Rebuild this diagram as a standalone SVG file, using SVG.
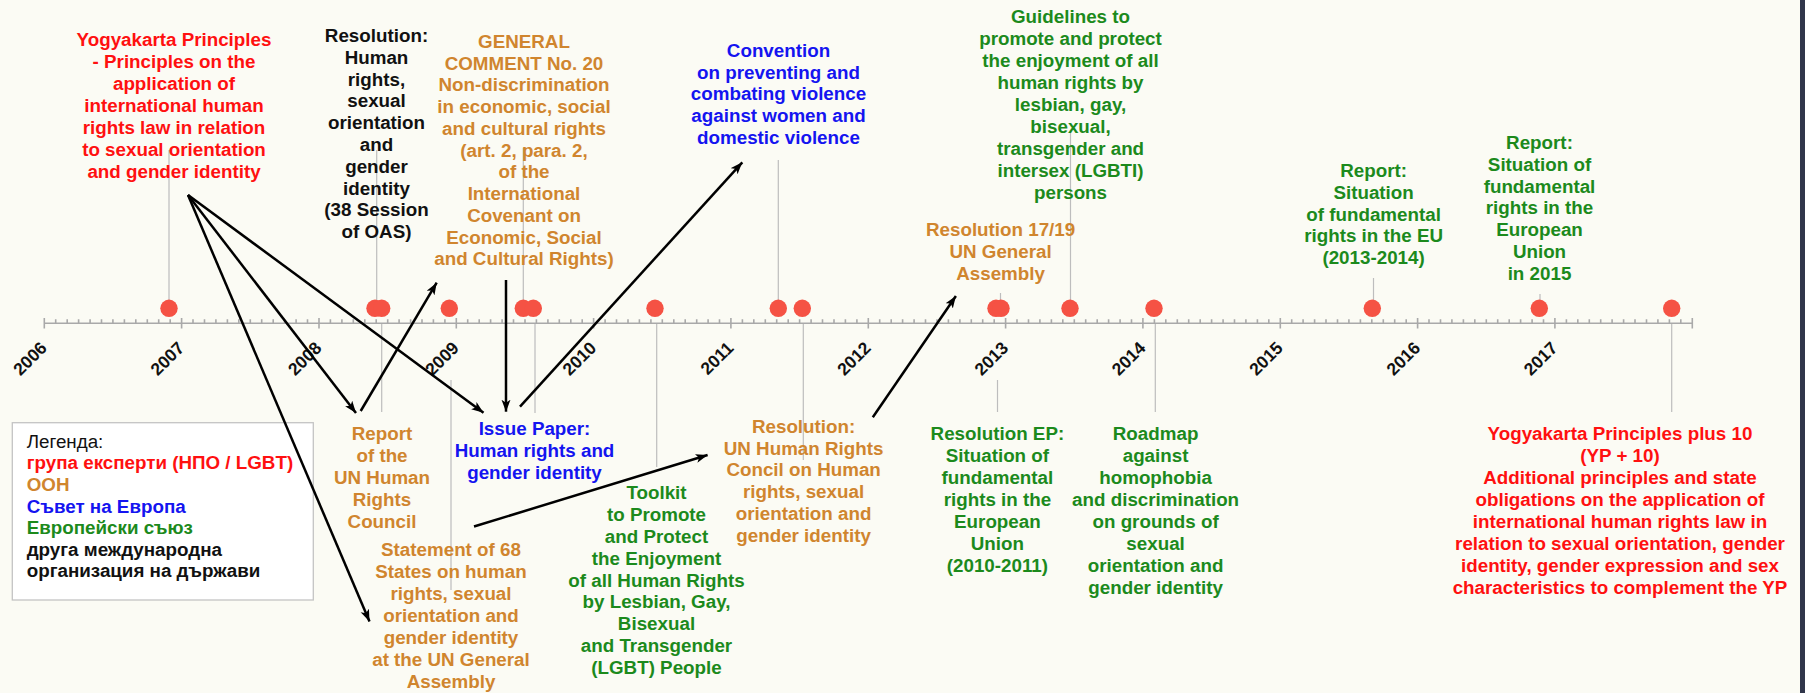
<svg xmlns="http://www.w3.org/2000/svg" width="1805" height="693" viewBox="0 0 1805 693">
<defs>
<style>
text{font-family:"Liberation Sans",Arial,sans-serif;font-weight:bold;font-size:18.8px;text-anchor:middle}
.red{fill:#ff1010}.un{fill:#d0852e}.coe{fill:#1414f0}.eu{fill:#1c8a1c}.blk{fill:#111}
.yr{font-size:17.5px;text-anchor:end;fill:#111}
.leg{text-anchor:start}
.reg{font-weight:normal}
.lead{stroke:#bdbdbd;stroke-width:1.2}
.dot{fill:#f55244}
.axis{stroke:#a9a9a9;stroke-width:1.6;fill:none}
.arr{stroke:#000;stroke-width:2.5;marker-end:url(#ah)}
</style>
<marker id="ah" markerUnits="userSpaceOnUse" markerWidth="13" markerHeight="10" refX="12" refY="4.5" orient="auto">
<path d="M0,0 L12,4.5 L0,9 L3,4.5 z" fill="#000"/>
</marker>
</defs>
<rect width="1805" height="693" fill="#fbfbf4"/>
<rect x="1800" y="0" width="5" height="693" fill="#30364a"/>

<g id="axis">
<line class="axis" x1="44.3" y1="323.3" x2="1692.3" y2="323.3"/>
<path class="axis" d="M44.3,318V328.5M181.6,318V328.5M319,318V328.5M456.3,318V328.5M593.6,318V328.5M730.9,318V328.5M868.3,318V328.5M1005.6,318V328.5M1142.9,318V328.5M1280.3,318V328.5M1417.6,318V328.5M1554.9,318V328.5M1692.3,318V328.5"/>
<path class="axis" stroke-width="1.2" d="M55.7,319.3V323.3M67.2,319.3V323.3M78.6,319.3V323.3M90.1,319.3V323.3M101.5,319.3V323.3M112.9,319.3V323.3M124.4,319.3V323.3M135.8,319.3V323.3M147.3,319.3V323.3M158.7,319.3V323.3M170.2,319.3V323.3
M193,319.3V323.3M204.5,319.3V323.3M215.9,319.3V323.3M227.4,319.3V323.3M238.8,319.3V323.3M250.3,319.3V323.3M261.7,319.3V323.3M273.2,319.3V323.3M284.6,319.3V323.3M296.1,319.3V323.3M307.5,319.3V323.3
M330.4,319.3V323.3M341.9,319.3V323.3M353.3,319.3V323.3M364.8,319.3V323.3M376.2,319.3V323.3M387.7,319.3V323.3M399.1,319.3V323.3M410.6,319.3V323.3M422,319.3V323.3M433.4,319.3V323.3M444.9,319.3V323.3
M467.7,319.3V323.3M479.2,319.3V323.3M490.6,319.3V323.3M502.1,319.3V323.3M513.5,319.3V323.3M525,319.3V323.3M536.4,319.3V323.3M547.9,319.3V323.3M559.3,319.3V323.3M570.8,319.3V323.3M582.2,319.3V323.3
M605.1,319.3V323.3M616.5,319.3V323.3M628,319.3V323.3M639.4,319.3V323.3M650.9,319.3V323.3M662.3,319.3V323.3M673.8,319.3V323.3M685.2,319.3V323.3M696.7,319.3V323.3M708.1,319.3V323.3M719.5,319.3V323.3
M742.4,319.3V323.3M753.8,319.3V323.3M765.3,319.3V323.3M776.7,319.3V323.3M788.2,319.3V323.3M799.6,319.3V323.3M811.1,319.3V323.3M822.5,319.3V323.3M834,319.3V323.3M845.4,319.3V323.3M856.9,319.3V323.3
M879.7,319.3V323.3M891.2,319.3V323.3M902.6,319.3V323.3M914.1,319.3V323.3M925.5,319.3V323.3M937,319.3V323.3M948.4,319.3V323.3M959.9,319.3V323.3M971.3,319.3V323.3M982.7,319.3V323.3M994.2,319.3V323.3
M1017,319.3V323.3M1028.5,319.3V323.3M1039.9,319.3V323.3M1051.4,319.3V323.3M1062.8,319.3V323.3M1074.3,319.3V323.3M1085.7,319.3V323.3M1097.2,319.3V323.3M1108.6,319.3V323.3M1120.1,319.3V323.3M1131.5,319.3V323.3
M1154.4,319.3V323.3M1165.8,319.3V323.3M1177.3,319.3V323.3M1188.7,319.3V323.3M1200.2,319.3V323.3M1211.6,319.3V323.3M1223.1,319.3V323.3M1234.5,319.3V323.3M1245.9,319.3V323.3M1257.4,319.3V323.3M1268.8,319.3V323.3
M1291.7,319.3V323.3M1303.1,319.3V323.3M1314.6,319.3V323.3M1326,319.3V323.3M1337.5,319.3V323.3M1348.9,319.3V323.3M1360.4,319.3V323.3M1371.8,319.3V323.3M1383.3,319.3V323.3M1394.7,319.3V323.3M1406.2,319.3V323.3
M1429,319.3V323.3M1440.5,319.3V323.3M1451.9,319.3V323.3M1463.4,319.3V323.3M1474.8,319.3V323.3M1486.3,319.3V323.3M1497.7,319.3V323.3M1509.2,319.3V323.3M1520.6,319.3V323.3M1532.1,319.3V323.3M1543.5,319.3V323.3
M1566.4,319.3V323.3M1577.8,319.3V323.3M1589.3,319.3V323.3M1600.7,319.3V323.3M1612.1,319.3V323.3M1623.6,319.3V323.3M1635,319.3V323.3M1646.5,319.3V323.3M1657.9,319.3V323.3M1669.4,319.3V323.3M1680.8,319.3V323.3"/>
<text class="yr" transform="translate(48,349) rotate(-45)">2006</text>
<text class="yr" transform="translate(185.3,349) rotate(-45)">2007</text>
<text class="yr" transform="translate(322.7,349) rotate(-45)">2008</text>
<text class="yr" transform="translate(460,349) rotate(-45)">2009</text>
<text class="yr" transform="translate(597.3,349) rotate(-45)">2010</text>
<text class="yr" transform="translate(734.6,349) rotate(-45)">2011</text>
<text class="yr" transform="translate(872,349) rotate(-45)">2012</text>
<text class="yr" transform="translate(1009.3,349) rotate(-45)">2013</text>
<text class="yr" transform="translate(1146.6,349) rotate(-45)">2014</text>
<text class="yr" transform="translate(1284,349) rotate(-45)">2015</text>
<text class="yr" transform="translate(1421.3,349) rotate(-45)">2016</text>
<text class="yr" transform="translate(1558.6,349) rotate(-45)">2017</text>
</g>

<g id="leaders">
<line class="lead" x1="169" y1="150" x2="169" y2="308"/>
<line class="lead" x1="376.7" y1="150" x2="376.7" y2="308"/>
<line class="lead" x1="523.3" y1="148" x2="523.3" y2="308"/>
<line class="lead" x1="778.3" y1="160" x2="778.3" y2="308"/>
<line class="lead" x1="1070.5" y1="132" x2="1070.5" y2="308"/>
<line class="lead" x1="1000.5" y1="293" x2="1000.5" y2="308"/>
<line class="lead" x1="1373.5" y1="278" x2="1373.5" y2="308"/>
<line class="lead" x1="1540" y1="294" x2="1540" y2="308"/>
<line class="lead" x1="381.7" y1="324" x2="381.7" y2="412"/>
<line class="lead" x1="535" y1="324" x2="535" y2="413"/>
<line class="lead" x1="451" y1="380" x2="451" y2="590"/>
<line class="lead" x1="656.7" y1="324" x2="656.7" y2="467"/>
<line class="lead" x1="803.3" y1="324" x2="803.3" y2="460"/>
<line class="lead" x1="997.5" y1="380" x2="997.5" y2="412"/>
<line class="lead" x1="1155.3" y1="324" x2="1155.3" y2="412"/>
<line class="lead" x1="1671.7" y1="324" x2="1671.7" y2="412"/>
</g>

<g id="dots">
<circle class="dot" cx="169" cy="308.3" r="8.7"/>
<circle class="dot" cx="375" cy="308.3" r="8.7"/>
<circle class="dot" cx="381.7" cy="308.3" r="8.7"/>
<circle class="dot" cx="449.3" cy="308.3" r="8.7"/>
<circle class="dot" cx="523.3" cy="308.3" r="8.7"/>
<circle class="dot" cx="533.3" cy="308.3" r="8.7"/>
<circle class="dot" cx="655" cy="308.3" r="8.7"/>
<circle class="dot" cx="778.3" cy="308.3" r="8.7"/>
<circle class="dot" cx="802.3" cy="308.3" r="8.7"/>
<circle class="dot" cx="996" cy="308.3" r="8.7"/>
<circle class="dot" cx="1001" cy="308.3" r="8.7"/>
<circle class="dot" cx="1070" cy="308.3" r="8.7"/>
<circle class="dot" cx="1154" cy="308.3" r="8.7"/>
<circle class="dot" cx="1372.3" cy="308.3" r="8.7"/>
<circle class="dot" cx="1539.3" cy="308.3" r="8.7"/>
<circle class="dot" cx="1671.7" cy="308.3" r="8.7"/>
</g>

<g id="n-yogyakarta">
<text class="red"><tspan x="174" y="45.5">Yogyakarta Principles</tspan><tspan x="174" y="67.5">- Principles on the</tspan><tspan x="174" y="89.5">application of</tspan><tspan x="174" y="111.5">international human</tspan><tspan x="174" y="133.5">rights law in relation</tspan><tspan x="174" y="155.5">to sexual orientation</tspan><tspan x="174" y="177.5">and gender identity</tspan></text>
</g>
<g id="n-oas">
<text class="blk"><tspan x="376.5" y="42">Resolution:</tspan><tspan x="376.5" y="63.8">Human</tspan><tspan x="376.5" y="85.6">rights,</tspan><tspan x="376.5" y="107.4">sexual</tspan><tspan x="376.5" y="129.2">orientation</tspan><tspan x="376.5" y="151">and</tspan><tspan x="376.5" y="172.8">gender</tspan><tspan x="376.5" y="194.6">identity</tspan><tspan x="376.5" y="216.4">(38 Session</tspan><tspan x="376.5" y="238.2">of OAS)</tspan></text>
</g>
<g id="n-comment20">
<text class="un"><tspan x="524" y="47.7">GENERAL</tspan><tspan x="524" y="69.5">COMMENT No. 20</tspan><tspan x="524" y="91.2">Non-discrimination</tspan><tspan x="524" y="113">in economic, social</tspan><tspan x="524" y="134.7">and cultural rights</tspan><tspan x="524" y="156.5">(art. 2, para. 2,</tspan><tspan x="524" y="178.3">of the</tspan><tspan x="524" y="200">International</tspan><tspan x="524" y="221.8">Covenant on</tspan><tspan x="524" y="243.5">Economic, Social</tspan><tspan x="524" y="265.3">and Cultural Rights)</tspan></text>
</g>
<g id="n-convention">
<text class="coe"><tspan x="778.5" y="56.7">Convention</tspan><tspan x="778.5" y="78.5">on preventing and</tspan><tspan x="778.5" y="100.2">combating violence</tspan><tspan x="778.5" y="122">against women and</tspan><tspan x="778.5" y="143.7">domestic violence</tspan></text>
</g>
<g id="n-guidelines">
<text class="eu"><tspan x="1070.5" y="23.3">Guidelines to</tspan><tspan x="1070.5" y="45.3">promote and protect</tspan><tspan x="1070.5" y="67.3">the enjoyment of all</tspan><tspan x="1070.5" y="89.3">human rights by</tspan><tspan x="1070.5" y="111.3">lesbian, gay,</tspan><tspan x="1070.5" y="133.3">bisexual,</tspan><tspan x="1070.5" y="155.3">transgender and</tspan><tspan x="1070.5" y="177.3">intersex (LGBTI)</tspan><tspan x="1070.5" y="199.3">persons</tspan></text>
</g>
<g id="n-res1719">
<text class="un"><tspan x="1000.6" y="236">Resolution 17/19</tspan><tspan x="1000.6" y="258">UN General</tspan><tspan x="1000.6" y="280">Assembly</tspan></text>
</g>
<g id="n-report1314">
<text class="eu"><tspan x="1373.6" y="177">Report:</tspan><tspan x="1373.6" y="198.8">Situation</tspan><tspan x="1373.6" y="220.6">of fundamental</tspan><tspan x="1373.6" y="242.4">rights in the EU</tspan><tspan x="1373.6" y="264.2">(2013-2014)</tspan></text>
</g>
<g id="n-report2015">
<text class="eu"><tspan x="1539.5" y="148.7">Report:</tspan><tspan x="1539.5" y="170.6">Situation of</tspan><tspan x="1539.5" y="192.5">fundamental</tspan><tspan x="1539.5" y="214.4">rights in the</tspan><tspan x="1539.5" y="236.3">European</tspan><tspan x="1539.5" y="258.2">Union</tspan><tspan x="1539.5" y="280.1">in 2015</tspan></text>
</g>
<g id="n-report-hrc">
<text class="un"><tspan x="382" y="440">Report</tspan><tspan x="382" y="461.9">of the</tspan><tspan x="382" y="483.8">UN Human</tspan><tspan x="382" y="505.7">Rights</tspan><tspan x="382" y="527.6">Council</tspan></text>
</g>
<g id="n-issue-paper">
<text class="coe"><tspan x="534.5" y="435.3">Issue Paper:</tspan><tspan x="534.5" y="457.3">Human rights and</tspan><tspan x="534.5" y="479.3">gender identity</tspan></text>
</g>
<g id="n-statement68">
<text class="un"><tspan x="451" y="556">Statement of 68</tspan><tspan x="451" y="578">States on human</tspan><tspan x="451" y="599.9">rights, sexual</tspan><tspan x="451" y="621.9">orientation and</tspan><tspan x="451" y="643.8">gender identity</tspan><tspan x="451" y="665.8">at the UN General</tspan><tspan x="451" y="687.7">Assembly</tspan></text>
</g>
<g id="n-toolkit">
<text class="eu"><tspan x="656.5" y="498.7">Toolkit</tspan><tspan x="656.5" y="520.6">to Promote</tspan><tspan x="656.5" y="542.6">and Protect</tspan><tspan x="656.5" y="564.5">the Enjoyment</tspan><tspan x="656.5" y="586.5">of all Human Rights</tspan><tspan x="656.5" y="608.4">by Lesbian, Gay,</tspan><tspan x="656.5" y="630.4">Bisexual</tspan><tspan x="656.5" y="652.3">and Transgender</tspan><tspan x="656.5" y="674.3">(LGBT) People</tspan></text>
</g>
<g id="n-res-hrc">
<text class="un"><tspan x="803.6" y="432.7">Resolution:</tspan><tspan x="803.6" y="454.6">UN Human Rights</tspan><tspan x="803.6" y="476.4">Concil on Human</tspan><tspan x="803.6" y="498.3">rights, sexual</tspan><tspan x="803.6" y="520.1">orientation and</tspan><tspan x="803.6" y="542">gender identity</tspan></text>
</g>
<g id="n-res-ep">
<text class="eu"><tspan x="997.4" y="440.3">Resolution EP:</tspan><tspan x="997.4" y="462.3">Situation of</tspan><tspan x="997.4" y="484.2">fundamental</tspan><tspan x="997.4" y="506.2">rights in the</tspan><tspan x="997.4" y="528.1">European</tspan><tspan x="997.4" y="550.1">Union</tspan><tspan x="997.4" y="572">(2010-2011)</tspan></text>
</g>
<g id="n-roadmap">
<text class="eu"><tspan x="1155.6" y="440.3">Roadmap</tspan><tspan x="1155.6" y="462.3">against</tspan><tspan x="1155.6" y="484.3">homophobia</tspan><tspan x="1155.6" y="506.3">and discrimination</tspan><tspan x="1155.6" y="528.3">on grounds of</tspan><tspan x="1155.6" y="550.3">sexual</tspan><tspan x="1155.6" y="572.3">orientation and</tspan><tspan x="1155.6" y="594.3">gender identity</tspan></text>
</g>
<g id="n-yp10">
<text class="red"><tspan x="1620" y="440">Yogyakarta Principles plus 10</tspan><tspan x="1620" y="462">(YP + 10)</tspan><tspan x="1620" y="484.1">Additional principles and state</tspan><tspan x="1620" y="506.1">obligations on the application of</tspan><tspan x="1620" y="528.2">international human rights law in</tspan><tspan x="1620" y="550.2">relation to sexual orientation, gender</tspan><tspan x="1620" y="572.2">identity, gender expression and sex</tspan><tspan x="1620" y="594.3">characteristics to complement the YP</tspan></text>
</g>

<g id="legend">
<rect x="12.3" y="422.7" width="301" height="177.3" fill="#fff" stroke="#c4c4c4" stroke-width="1.3"/>
<text class="leg blk reg" x="26.7" y="447.5">Легенда:</text>
<text class="leg red" x="26.7" y="469.2">група експерти (НПО / LGBT)</text>
<text class="leg un" x="26.7" y="490.8">ООН</text>
<text class="leg coe" x="26.7" y="512.5">Съвет на Европа</text>
<text class="leg eu" x="26.7" y="534.1">Европейски съюз</text>
<text class="leg blk" x="26.7" y="555.8">друга международна</text>
<text class="leg blk" x="26.7" y="577.4">организация на държави</text>
</g>

<g id="connectors">
<line class="arr" x1="188" y1="195" x2="356" y2="413"/>
<line class="arr" x1="188" y1="195" x2="483.5" y2="412.7"/>
<line class="arr" x1="188" y1="195" x2="369.5" y2="621.5"/>
<line class="arr" x1="360.7" y1="411" x2="436.7" y2="282.7"/>
<line class="arr" x1="506" y1="280" x2="506" y2="411.7"/>
<line class="arr" x1="520" y1="406.7" x2="742.3" y2="162.3"/>
<line class="arr" x1="474" y1="526.5" x2="707.6" y2="455"/>
<line class="arr" x1="872.8" y1="417.3" x2="955.9" y2="296"/>
</g>
</svg>
